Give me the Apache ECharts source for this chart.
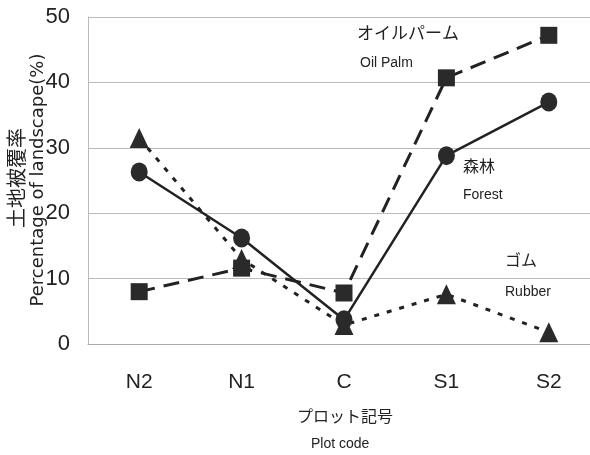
<!DOCTYPE html>
<html><head><meta charset="utf-8">
<script src="https://cdn.jsdelivr.net/npm/echarts@6/dist/echarts.min.js"></script>
<style>html,body{margin:0;padding:0;background:#fff}#c{width:590px;height:455px}</style>
</head><body><div id="c"></div>
<script>
const categories = ['N2','N1','C','S1','S2'];
const oilPalm = [8, 11.6, 7.8, 40.7, 47.2];
const forest = [26.3, 16.2, 3.7, 28.8, 37];
const rubber = [31.5, 13, 2.9, 7.6, 1.8];
const yTicks = [0, 10, 20, 30, 40, 50];

const chart = echarts.init(document.getElementById('c'));
const narrow = '"Liberation Sans Narrow", "Liberation Sans", Arial, sans-serif';
const jp = '"Noto Sans CJK JP", sans-serif';
const ink = '#222';
chart.setOption({
  animation: false,
  backgroundColor: '#fff',
  grid: {left: 88, top: 17, width: 512, height: 327, outerBoundsMode: 'none', containLabel: false},
  xAxis: {
    type: 'category', data: categories, boundaryGap: true,
    axisLine: {lineStyle: {color: '#aaa', width: 1}},
    axisTick: {inside: true, length: 5, lineStyle: {color: '#aaa'}},
    axisLabel: {color: ink, fontSize: 21, fontFamily: narrow, margin: 28}
  },
  yAxis: {
    type: 'value', min: yTicks[0], max: yTicks[yTicks.length-1], interval: 10,
    axisLine: {show: true, lineStyle: {color: '#bbb'}},
    axisTick: {show: false},
    splitLine: {lineStyle: {color: '#bbb', width: 1}},
    axisLabel: {color: ink, fontSize: 22, fontFamily: narrow, margin: 18}
  },
  graphic: [
    {type: 'text', left: 297, top: 408, style: {text: 'プロット記号', font: '16px ' + jp, fill: ink}},
    {type: 'text', left: 311, top: 437, style: {text: 'Plot code', font: '14px ' + narrow, fill: ink}},
    {type: 'text', x: 16, y: 178, rotation: Math.PI/2, style: {text: '土地被覆率', font: '20px ' + jp, fill: ink, align: 'center', verticalAlign: 'middle'}},
    {type: 'text', x: 38, y: 180, rotation: Math.PI/2, style: {text: 'Percentage of landscape(%)', font: '18px "DejaVu Sans", sans-serif', fill: ink, align: 'center', verticalAlign: 'middle'}},
    {type: 'text', left: 357, top: 24, style: {text: 'オイルパーム', font: '17px ' + jp, fill: ink}},
    {type: 'text', left: 360, top: 56, style: {text: 'Oil Palm', font: '14px ' + narrow, fill: ink}},
    {type: 'text', left: 463, top: 158, style: {text: '森林', font: '16px ' + jp, fill: ink}},
    {type: 'text', left: 463, top: 188, style: {text: 'Forest', font: '14px ' + narrow, fill: ink}},
    {type: 'text', left: 505, top: 252, style: {text: 'ゴム', font: '16px ' + jp, fill: ink}},
    {type: 'text', left: 505, top: 285, style: {text: 'Rubber', font: '14px ' + narrow, fill: ink}}
  ],
  series: [
    {name: 'Rubber', type: 'line', data: rubber, symbol: 'triangle', symbolSize: [19, 20],
     lineStyle: {color: ink, width: 3, type: [5, 8]}, itemStyle: {color: '#2a2a2a'}},
    {name: 'Oil Palm', type: 'line', data: oilPalm, symbol: 'rect', symbolSize: [17, 17],
     lineStyle: {color: ink, width: 3, type: [16, 9]}, itemStyle: {color: '#2a2a2a'}},
    {name: 'Forest', type: 'line', data: forest, symbol: 'circle', symbolSize: [17, 19],
     lineStyle: {color: ink, width: 2.5}, itemStyle: {color: '#2a2a2a'}}
  ]
});
</script></body></html>
